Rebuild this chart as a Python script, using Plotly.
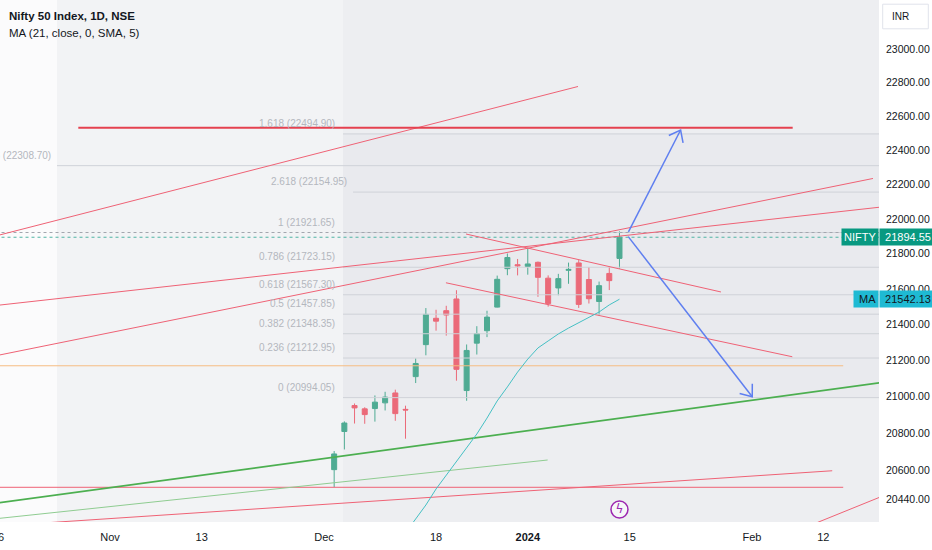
import math
import pandas as pd
import plotly.graph_objects as go

# ---------------- calendar (NSE trading days, incl. Muhurat session) ----------------
holidays = ["2023-10-24", "2023-11-14", "2023-11-27", "2023-12-25", "2024-01-26"]
special_sessions = ["2023-11-12"]
days = pd.bdate_range("2023-10-16", "2024-02-16")
days = days[~days.isin(pd.to_datetime(holidays))].union(pd.to_datetime(special_sessions))
bar_index = {d.strftime("%Y-%m-%d"): i for i, d in enumerate(days)}

# ---------------- data ----------------
candle_dates = ["2023-12-04", "2023-12-05", "2023-12-06", "2023-12-07", "2023-12-08",
                "2023-12-11", "2023-12-12", "2023-12-13", "2023-12-14", "2023-12-15",
                "2023-12-18", "2023-12-19", "2023-12-20", "2023-12-21", "2023-12-22",
                "2023-12-26", "2023-12-27", "2023-12-28", "2023-12-29",
                "2024-01-01", "2024-01-02", "2024-01-03", "2024-01-04", "2024-01-05",
                "2024-01-08", "2024-01-09", "2024-01-10", "2024-01-11", "2024-01-12"]
opens = [20601.95, 20808.90, 20950.75, 20932.40, 20934.10, 20965.30, 21019.80, 20929.75,
         21110.00, 21287.45, 21434.80, 21477.65, 21543.50, 21033.00, 21295.85, 21365.20,
         21497.65, 21715.00, 21737.65, 21727.75, 21751.35, 21661.10, 21605.80, 21705.75,
         21747.60, 21653.60, 21529.30, 21688.00, 21773.55]
highs = [20702.65, 20864.05, 20961.95, 20941.25, 21006.10, 21026.10, 21037.90, 20950.00,
         21210.90, 21492.30, 21482.80, 21505.05, 21593.00, 21288.35, 21390.50, 21477.15,
         21675.75, 21801.45, 21770.30, 21834.35, 21755.60, 21677.00, 21685.65, 21749.60,
         21763.95, 21724.45, 21641.85, 21726.50, 21928.25]
lows = [20507.75, 20711.15, 20852.15, 20850.80, 20862.70, 20923.70, 20867.15, 20769.50,
        21074.45, 21228.05, 21365.35, 21337.75, 21087.35, 20976.80, 21232.45, 21329.45,
        21495.80, 21678.00, 21676.90, 21680.85, 21555.65, 21500.35, 21564.55, 21629.20,
        21492.90, 21517.85, 21448.65, 21593.75, 21715.15]
closes = [20686.80, 20855.10, 20937.70, 20901.15, 20969.40, 20997.10, 20906.40, 20926.35,
          21182.70, 21456.65, 21418.65, 21453.10, 21150.15, 21255.05, 21349.40, 21441.35,
          21654.75, 21778.70, 21731.40, 21741.90, 21665.80, 21517.35, 21658.60, 21710.80,
          21513.00, 21544.85, 21618.70, 21647.20, 21894.55]

ma_dates = ["2023-12-12", "2023-12-13", "2023-12-14", "2023-12-15", "2023-12-18",
            "2023-12-19", "2023-12-20", "2023-12-21", "2023-12-22", "2023-12-26",
            "2023-12-27", "2023-12-28", "2023-12-29", "2024-01-01", "2024-01-02",
            "2024-01-03", "2024-01-04", "2024-01-05", "2024-01-08", "2024-01-09",
            "2024-01-10", "2024-01-11", "2024-01-12"]
ma_values = [20190, 20263, 20337, 20412, 20498, 20573, 20649, 20719, 20795, 20882,
             20976, 21053, 21135, 21207, 21269, 21308, 21347, 21380, 21411, 21442,
             21470, 21510, 21542.13]

tick_dates = ["2023-11-01", "2023-11-13", "2023-12-01", "2023-12-18", "2024-01-01",
              "2024-01-15", "2024-02-01", "2024-02-12"]
tick_labels = ["Nov", "13", "Dec", "18", "<b>2024</b>", "15", "Feb", "12"]
first_tick_date, first_tick_label = "2023-10-16", "16"

price_ticks = [23000, 22800, 22600, 22400, 22200, 22000, 21800, 21600, 21400,
               21200, 21000, 20800, 20600, 20440]

# drawings (x in bar numbers, y in price)
red_thin_lines = [
    ((0.0, 21905), (56.93, 22776)),
    ((0.0, 21508), (88.0, 22077)),
    ((0.0, 21228), (85.88, 22234)),
    ((45.94, 21913), (70.96, 21583)),
    ((43.97, 21635), (77.96, 21220)),
    ((0.0, 20507), (82.96, 20507)),
    ((4.13, 20315), (81.88, 20596)),
    ((79.70, 20303), (87.55, 20476)),
]
red_thick_line = ((7.89, 22531.5), (78.0, 22531.5))
orange_line = ((0.0, 21170), (82.96, 21170))
green_thick_line = ((0.0, 20423), (88.0, 21087))
green_thin_line = ((0.0, 20340), (53.95, 20654))
arrow_up = ((61.88, 21925), (67.0, 22518))
arrow_down = ((61.86, 21898), (74.03, 20999))

fib_main_levels = [1.618, 1, 0.786, 0.618, 0.5, 0.382, 0.236, 0]
fib_main_prices = [22494.90, 21921.65, 21723.15, 21567.30, 21457.85, 21348.35, 21212.95, 20994.05]
fib_main_start = 33.87
fib_extra = [(3.618, 22308.70, 5.80), (2.618, 22154.95, 34.85)]

last_close = 21894.55
ma_last = 21542.13

# ---------------- geometry ----------------
W, H = 932, 550
ML, MR, MT, MB = 0, 53, 0, 28
PW, PH = W - ML - MR, H - MT - MB
X0, X1 = 0.205, 86.47
L0, L1 = 4.307955, 4.367313
XEND = 90

FONT = "Liberation Sans, Arial, sans-serif"
TXT = "#131722"
RED = "#ef6275"
GREEN_UP = "#4fab93"
RED_DN = "#eb6a79"


def to_px(i, p):
    return ((i - X0) / (X1 - X0) * PW, (L1 - math.log10(p)) / (L1 - L0) * PH)


def from_px(x, y):
    return (X0 + x / PW * (X1 - X0), 10 ** (L1 - y / PH * (L1 - L0)))


def xfrac(i):
    return (i - X0) / (X1 - X0)


def yfrac(p):
    return (math.log10(p) - L0) / (L1 - L0)


def arrow_head(start, end, size=13, ang=38):
    sx, sy = to_px(*start)
    ex, ey = to_px(*end)
    dx, dy = sx - ex, sy - ey
    n = math.hypot(dx, dy)
    dx, dy = dx / n, dy / n
    pts = []
    for a in (ang, -ang):
        r = math.radians(a)
        wx = dx * math.cos(r) - dy * math.sin(r)
        wy = dx * math.sin(r) + dy * math.cos(r)
        pts.append(from_px(ex + size * wx, ey + size * wy))
    return [pts[0], end, pts[1]]


fig = go.Figure()


def seg(line, color, width, dash="solid"):
    (xa, ya), (xb, yb) = line
    fig.add_trace(go.Scatter(x=[xa, xb], y=[ya, yb], mode="lines",
                             line=dict(color=color, width=width, dash=dash),
                             hoverinfo="skip", showlegend=False))


# background bands
fig.add_shape(type="rect", xref="x", yref="paper", x0=5.80, x1=XEND, y0=0, y1=1,
              fillcolor="#f2f3f5", line_width=0, layer="below")
fig.add_shape(type="rect", xref="x", yref="paper", x0=fib_main_start, x1=XEND, y0=0, y1=1,
              fillcolor="#edeef1", line_width=0, layer="below")
fig.add_shape(type="rect", xref="x", yref="paper", x0=fib_main_start, x1=XEND,
              y0=yfrac(fib_main_prices[-1]), y1=yfrac(fib_main_prices[0]),
              fillcolor="#e9eaee", line_width=0, layer="below")

# fib lines
for lv, pr in zip(fib_main_levels, fib_main_prices):
    seg(((fib_main_start, pr), (XEND, pr)), "#cfd2d8", 1)
for lv, pr, xs in fib_extra:
    seg(((xs, pr), (XEND, pr)), "#cfd2d8", 1)

# price lines
seg(((-2, fib_main_prices[1]), (XEND, fib_main_prices[1])), "#a3a6ae", 1, "dot")
seg(((-2, last_close), (XEND, last_close)), "#4fb3a3", 1, "dot")

# drawings
for ln in red_thin_lines:
    seg(ln, RED, 1)
seg(red_thick_line, "#e5414f", 2)
seg(orange_line, "#f6bd82", 1)
seg(green_thick_line, "#4caf50", 1.8)
seg(green_thin_line, "#8fcc91", 1)

# MA
fig.add_trace(go.Scatter(x=[bar_index[d] for d in ma_dates], y=ma_values, mode="lines",
                         line=dict(color="#45c0c4", width=1), hoverinfo="skip", showlegend=False))

# candles
fig.add_trace(go.Candlestick(
    x=[bar_index[d] for d in candle_dates], open=opens, high=highs, low=lows, close=closes,
    increasing=dict(line=dict(color=GREEN_UP, width=1), fillcolor=GREEN_UP),
    decreasing=dict(line=dict(color=RED_DN, width=1), fillcolor=RED_DN),
    whiskerwidth=0, hoverinfo="skip", showlegend=False))

# arrows
for ar in (arrow_up, arrow_down):
    seg(ar, "#5f7ff0", 1.5)
    head = arrow_head(*ar)
    fig.add_trace(go.Scatter(x=[p[0] for p in head], y=[p[1] for p in head], mode="lines",
                             line=dict(color="#5f7ff0", width=1.5), hoverinfo="skip",
                             showlegend=False))

# event icon
fig.add_trace(go.Scatter(x=[bar_index["2024-01-12"]], y=[20388], mode="markers+text",
                         marker=dict(symbol="circle", size=17, color="rgba(255,255,255,0.5)",
                                     line=dict(color="#9c27b0", width=1.5)),
                         text=["ϟ"], textposition="middle center",
                         textfont=dict(color="#9c27b0", size=12, family="DejaVu Sans"),
                         hoverinfo="skip", showlegend=False))

ann = []
LBL = dict(family=FONT, size=10, color="#b4b7be")
# fib labels
for lv, pr in zip(fib_main_levels, fib_main_prices):
    ann.append(dict(x=xfrac(fib_main_start) - 6 / PW, y=math.log10(pr), xref="paper", yref="y",
                    text=f"{lv:g} ({pr:.2f})", showarrow=False, xanchor="right",
                    yanchor="middle", yshift=10.5, font=LBL))
for lv, pr, xs in fib_extra:
    ann.append(dict(x=xfrac(xs) - 4 / PW, y=math.log10(pr), xref="paper", yref="y",
                    text=f"{lv:g} ({pr:.2f})", showarrow=False, xanchor="right",
                    yanchor="middle", yshift=10.5, font=LBL))

# header
ann.append(dict(x=6.7 / PW, y=1 - 16 / PH, xref="paper", yref="paper", xanchor="left",
                yanchor="middle", showarrow=False, text="<b>Nifty 50 Index, 1D, NSE</b>",
                font=dict(family=FONT, size=11.5, color=TXT)))
ann.append(dict(x=6.7 / PW, y=1 - 33.3 / PH, xref="paper", yref="paper", xanchor="left",
                yanchor="middle", showarrow=False, text="MA (21, close, 0, SMA, 5)",
                font=dict(family=FONT, size=11.5, color=TXT)))

# first (partially visible) date label
ann.append(dict(x=xfrac(bar_index[first_tick_date]), y=-15 / PH, xref="paper", yref="paper",
                xanchor="center", yanchor="middle", showarrow=False, text=first_tick_label,
                font=dict(family=FONT, size=11, color=TXT)))

# price labels on the axis
ann.append(dict(x=1, y=math.log10(last_close), xref="paper", yref="y", xanchor="right",
                yanchor="middle", showarrow=False, text="NIFTY", bgcolor="#089981",
                borderpad=2, font=dict(family=FONT, size=11, color="white")))
ann.append(dict(x=1, y=math.log10(last_close), xref="paper", yref="y", xanchor="left",
                yanchor="middle", showarrow=False, text=f" {last_close:.2f} ", bgcolor="#089981",
                borderpad=2, font=dict(family=FONT, size=11, color="white")))
ann.append(dict(x=1, y=math.log10(ma_last), xref="paper", yref="y", xanchor="right",
                yanchor="middle", showarrow=False, text=" MA", bgcolor="#1fbad3",
                borderpad=2, font=dict(family=FONT, size=11, color=TXT)))
ann.append(dict(x=1, y=math.log10(ma_last), xref="paper", yref="y", xanchor="left",
                yanchor="middle", showarrow=False, text=f" {ma_last:.2f} ", bgcolor="#1fbad3",
                borderpad=2, font=dict(family=FONT, size=11, color=TXT)))

# currency box
ann.append(dict(x=890 / PW, y=1 - 16.5 / PH, xref="paper", yref="paper", xanchor="left",
                yanchor="middle", showarrow=False, text="INR",
                font=dict(family=FONT, size=10, color=TXT)))
fig.add_shape(type="rect", xref="paper", yref="paper", x0=882.7 / PW, x1=928.3 / PW,
              y0=1 - 28.8 / PH, y1=1 - 4.2 / PH, line=dict(color="#e0e3eb", width=1),
              fillcolor="white", layer="above")

fig.update_layout(
    width=W, height=H, margin=dict(l=ML, r=MR, t=MT, b=MB),
    paper_bgcolor="white", plot_bgcolor="#fbfbfc",
    showlegend=False, annotations=ann, hovermode=False,
    xaxis=dict(range=[X0, X1], tickvals=[bar_index[d] for d in tick_dates], ticktext=tick_labels,
               showgrid=False, zeroline=False, showline=False, ticks="",
               tickfont=dict(family=FONT, size=11, color=TXT), rangeslider=dict(visible=False),
               ticklabelstandoff=7, fixedrange=True),
    yaxis=dict(type="log", range=[L0, L1], side="right", tickvals=price_ticks,
               ticktext=[f"{v:.2f}" for v in price_ticks], showgrid=False, zeroline=False,
               showline=False, ticks="", tickfont=dict(family=FONT, size=10.5, color=TXT),
               ticklabelstandoff=6, fixedrange=True),
)

fig.write_html("out.html", config={"displayModeBar": False},
               post_script="document.documentElement.style.margin='0';"
                           "document.body.style.margin='0';document.body.style.padding='0';")
